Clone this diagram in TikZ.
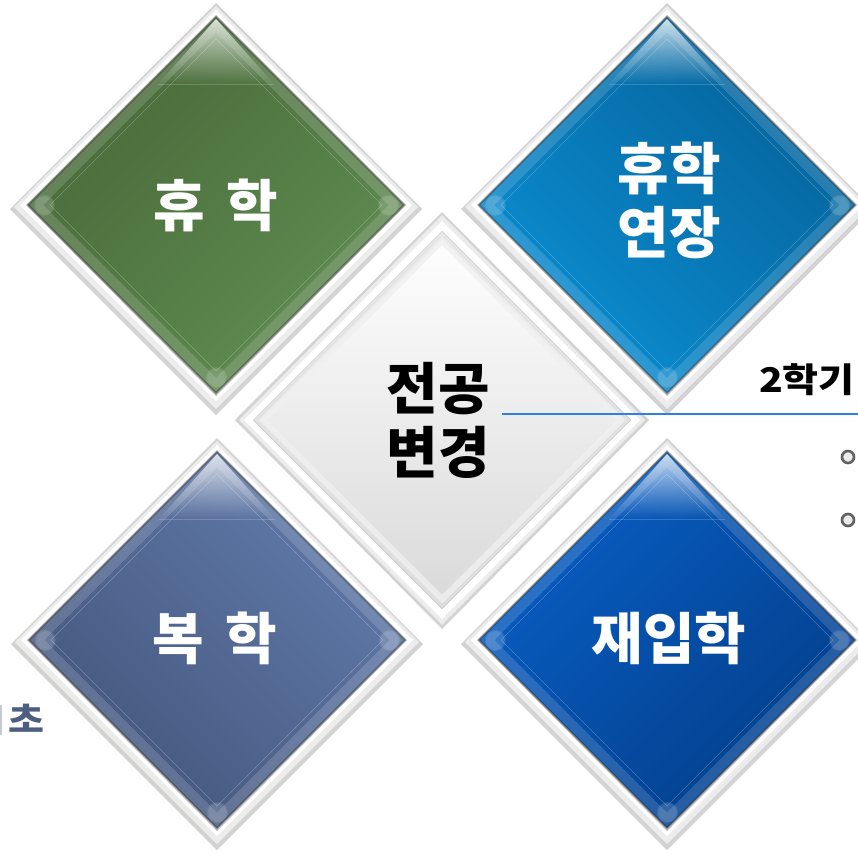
\documentclass[tikz,border=0pt]{standalone}
\usepackage{fontspec}
\setmainfont{Noto Sans CJK KR}
\newfontfamily\widekr{Noto Sans CJK KR}[FakeStretch=1.15]
\usetikzlibrary{shapes.geometric,fadings}
\definecolor{greenA}{HTML}{486939}
\definecolor{greenB}{HTML}{608D52}
\definecolor{skyA}{HTML}{05629A}
\definecolor{skyB}{HTML}{0B8ED2}
\definecolor{slateA}{HTML}{617BAB}
\definecolor{slateB}{HTML}{44567C}
\definecolor{royalA}{HTML}{085EC4}
\definecolor{royalB}{HTML}{033E8A}
\definecolor{frameA}{HTML}{D2D2D2}
\definecolor{frameB}{HTML}{ECECEC}
\definecolor{frameC}{HTML}{B8B8B8}
\definecolor{lineblue}{HTML}{2E80E2}
\definecolor{chocol}{HTML}{4E5E80}
\newcommand\gemframe{%
  \fill[frameA] (0,-202)--(206,4)--(0,210)--(-206,4)--cycle;
  \fill[frameB] (0,-199)--(202,2)--(0,204)--(-202,2)--cycle;
  \fill[white] (0,-195)--(196,0)--(0,196)--(-196,0)--cycle;
  \fill[frameC] (0,-190)--(190,0)--(0,191)--(-190,0)--cycle;
}
\newcommand\gemgloss{%
  \draw[white, opacity=0.14, line width=12pt] (0,-181)--(181,0)--(0,181)--(-181,0)--cycle;
  \draw[black, opacity=0.35, line width=1.5pt] (0,-188)--(188,0)--(0,188)--(-188,0)--cycle;
  \draw[white, opacity=0.25, line width=0.5pt] (0,-166)--(166,0)--(0,166)--(-166,0)--cycle;
  \fill[white, opacity=0.75, path fading=south] (0,-186)--(58,-121)--(-58,-121)--cycle;
  \draw[white, opacity=0.18, line width=0.6pt] (-58,-121)--(58,-121);
  \fill[white, opacity=0.18, path fading=circle with fuzzy edge 20 percent] (-172,0) circle (11);
  \fill[white, opacity=0.18, path fading=circle with fuzzy edge 20 percent] (172,0) circle (11);
  \fill[white, opacity=0.18, path fading=circle with fuzzy edge 20 percent] (0,172) circle (11);
}
\begin{document}
\begin{tikzpicture}[x=1pt,y=-1pt,
  gem/.style={diamond, minimum width=376pt, minimum height=376pt, inner sep=0pt},
  lbl/.style={text=white, font=\bfseries\fontsize{56}{64}\selectfont, align=center, inner sep=0pt},
  side/.style={font=\widekr\bfseries\fontsize{34}{34}\selectfont, inner sep=0pt},
  bulletring/.style={circle, minimum size=12pt, inner sep=0pt, draw=black!62, line width=2.6pt, fill=white!92!black},
  connector/.style={draw=lineblue, line width=2.4pt}]
\useasboundingbox (0,0) rectangle (858,853);
\clip (0,0) rectangle (858,853);
\fill[white] (0,0) rectangle (858,853);
% top-left
\begin{scope}[shift={(216,205)}]
  \gemframe
  \node[gem, top color=greenA, bottom color=greenB, shading angle=45] (g1) at (0,0) {};
  \gemgloss
\end{scope}
% top-right
\begin{scope}[shift={(667,205)}]
  \gemframe
  \node[gem, top color=skyA, bottom color=skyB, shading angle=-45] (g2) at (0,0) {};
  \gemgloss
\end{scope}
% bottom-left
\begin{scope}[shift={(217,640)}]
  \gemframe
  \node[gem, top color=slateA, bottom color=slateB, shading angle=-45] (g3) at (0,0) {};
  \gemgloss
\end{scope}
% bottom-right
\begin{scope}[shift={(667,640)}]
  \gemframe
  \node[gem, top color=royalA, bottom color=royalB, shading angle=45] (g4) at (0,0) {};
  \gemgloss
\end{scope}
% centre
\begin{scope}[shift={(442,420)}]
  \fill[frameA] (0,-208)--(207,0)--(0,209)--(-207,0)--cycle;
  \fill[frameB] (0,-205)--(203,0)--(0,205)--(-203,0)--cycle;
  \fill[white] (0,-199)--(198,0)--(0,199)--(-198,0)--cycle;
  \fill[black!22] (0,-189)--(189,0)--(0,189)--(-189,0)--cycle;
  \node[gem, top color=white, bottom color=black!15] (g0) at (0,0) {};
  \draw[black!12, line width=5pt, opacity=0.8] (0,-184)--(184,0)--(0,184)--(-184,0)--cycle;
  \draw[black!6, line width=6pt, opacity=0.8] (0,-179)--(179,0)--(0,179)--(-179,0)--cycle;
\end{scope}
% labels
\node[lbl] (t1) at (216,205) {\spaceskip=22pt 휴 학};
\node[lbl] (t2) at (669,200) {휴학\\연장};
\node[lbl, text=black] (t0) at (438,420) {전공\\변경};
\node[lbl] (t3) at (215,638) {\spaceskip=22pt 복 학};
\node[lbl] (t4) at (669,638) {재입학};
% right side
\node[side, anchor=east] (sem) at (855,380) {2학기};
\coordinate (lineL) at (502,414);
\coordinate (lineR) at (858,414);
\draw[connector] (lineL) -- (lineR);
\node[bulletring] (b1) at (848,457) {};
\node[bulletring] (b2) at (848,520) {};
% left side
\fill[black!20!chocol!30] (0,705) rectangle (2,735);
\node[side, text=chocol] (cho) at (26,718) {초};
\end{tikzpicture}
\end{document}
